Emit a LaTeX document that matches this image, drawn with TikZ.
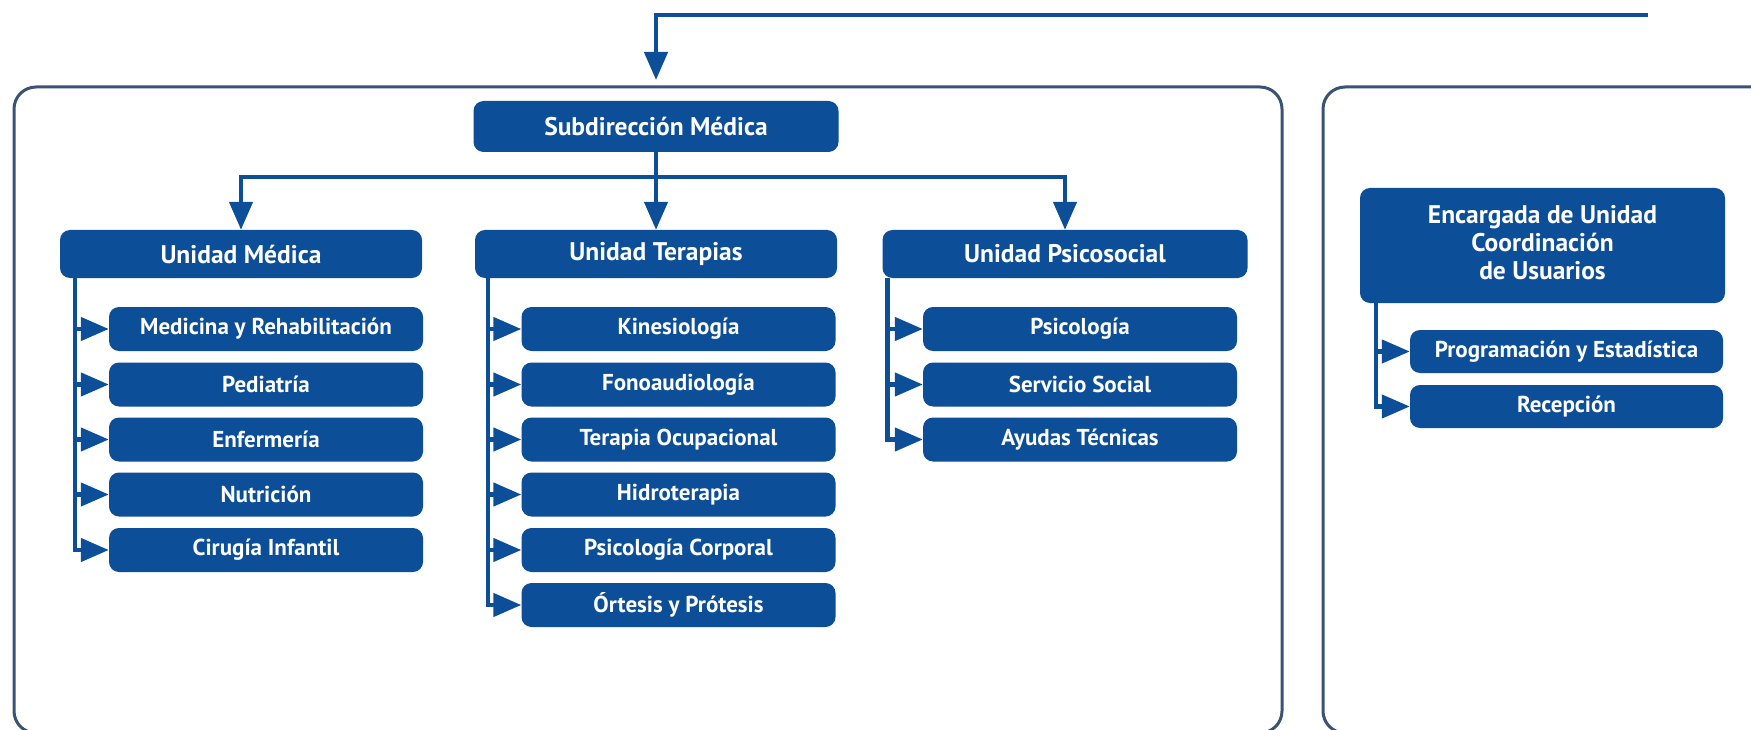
\documentclass[tikz,border=0pt]{standalone}
\usepackage{fontspec}
\setmainfont{PT Sans}
\usetikzlibrary{arrows.meta}
\definecolor{boxblue}{RGB}{12,78,152}
\definecolor{framecol}{RGB}{58,82,115}
\begin{document}
\begin{tikzpicture}[x=1pt,y=-1pt,
  box/.style={draw=none, fill=boxblue, text=white, rounded corners=10pt, inner sep=0pt, align=center},
  hdr/.style={box, font=\bfseries\fontsize{25.5}{30}\selectfont, minimum width=362pt, minimum height=48pt},
  kid/.style={box, font=\bfseries\fontsize{23}{27}\selectfont, minimum width=314pt, minimum height=44pt},
  conn/.style={draw=boxblue, line width=4.5pt},
  arr/.style={conn, -{Triangle[length=28pt,width=23pt]}},
  container/.style={draw=framecol, line width=3pt, rounded corners=22pt}
]
\useasboundingbox (0,0) rectangle (1751,730);
\clip (0,0) rectangle (1751,730);
\fill[white] (0,0) rectangle (1751,730);

% containers
\draw[container] (14,87) rectangle (1282,733);
\draw[container] (1323,87) rectangle (1800,733);

% top connector
\coordinate (topR) at (1648,15);
\coordinate (topArr) at (656,80);
\draw[arr] (topR) -| (topArr);

% top-level nodes
\node[hdr, minimum width=365pt, minimum height=51pt] (sub) at (656,126.5) {Subdirección Médica};
\node[hdr] (um) at (241,254) {Unidad Médica};
\node[hdr] (ut) at (656,254) {Unidad Terapias};
\node[hdr, minimum width=365pt] (up) at (1065,254) {Unidad Psicosocial};

\coordinate (bj) at (656,177);
\draw[arr] (sub.south) -- (ut.north);
\draw[arr] (bj) -| (um.north);
\draw[arr] (bj) -| (up.north);

% Unidad Medica children
\node[kid] (m1) at (266,329) {Medicina y Rehabilitación};
\node[kid] (m2) at (266,384.5) {Pediatría};
\node[kid] (m3) at (266,439.5) {Enfermería};
\node[kid] (m4) at (266,494.5) {Nutrición};
\node[kid] (m5) at (266,550) {Cirugía Infantil};
\coordinate (umv) at ([xshift=15pt]um.south west);
\draw[arr] (umv) |- (m5.west);
\foreach \c in {m1,m2,m3,m4} \draw[arr] (umv |- \c.west) -- (\c.west);

% Unidad Terapias children
\node[kid] (t1) at (678.5,329) {Kinesiología};
\node[kid] (t2) at (678.5,384.5) {Fonoaudiología};
\node[kid] (t3) at (678.5,439.5) {Terapia Ocupacional};
\node[kid] (t4) at (678.5,494.5) {Hidroterapia};
\node[kid] (t5) at (678.5,550) {Psicología Corporal};
\node[kid] (t6) at (678.5,605) {Órtesis y Prótesis};
\coordinate (utv) at ([xshift=13pt]ut.south west);
\draw[arr] (utv) |- (t6.west);
\foreach \c in {t1,t2,t3,t4,t5} \draw[arr] (utv |- \c.west) -- (\c.west);

% Unidad Psicosocial children
\node[kid] (p1) at (1080,329) {Psicología};
\node[kid] (p2) at (1080,384.5) {Servicio Social};
\node[kid] (p3) at (1080,439.5) {Ayudas Técnicas};
\coordinate (upv) at ([xshift=5pt]up.south west);
\draw[arr] (upv) |- (p3.west);
\foreach \c in {p1,p2} \draw[arr] (upv |- \c.west) -- (\c.west);

% Right side
\node[box, minimum width=365pt, minimum height=115pt] (enc) at (1542.5,245.5) {};
\node[text=white, align=center, inner sep=0pt, font=\bfseries\fontsize{25.5}{28}\selectfont] (enctext) at ([yshift=3pt]enc.center)
  {Encargada de Unidad\\Coordinación\\de Usuarios};
\node[kid, minimum width=313pt, minimum height=43pt] (r1) at (1566.5,351.5) {Programación y Estadística};
\node[kid, minimum width=313pt, minimum height=43pt] (r2) at (1566.5,406.5) {Recepción};
\coordinate (encv) at ([xshift=16pt]enc.south west);
\draw[arr] (encv) |- (r2.west);
\draw[arr] (encv |- r1.west) -- (r1.west);
\end{tikzpicture}
\end{document}
